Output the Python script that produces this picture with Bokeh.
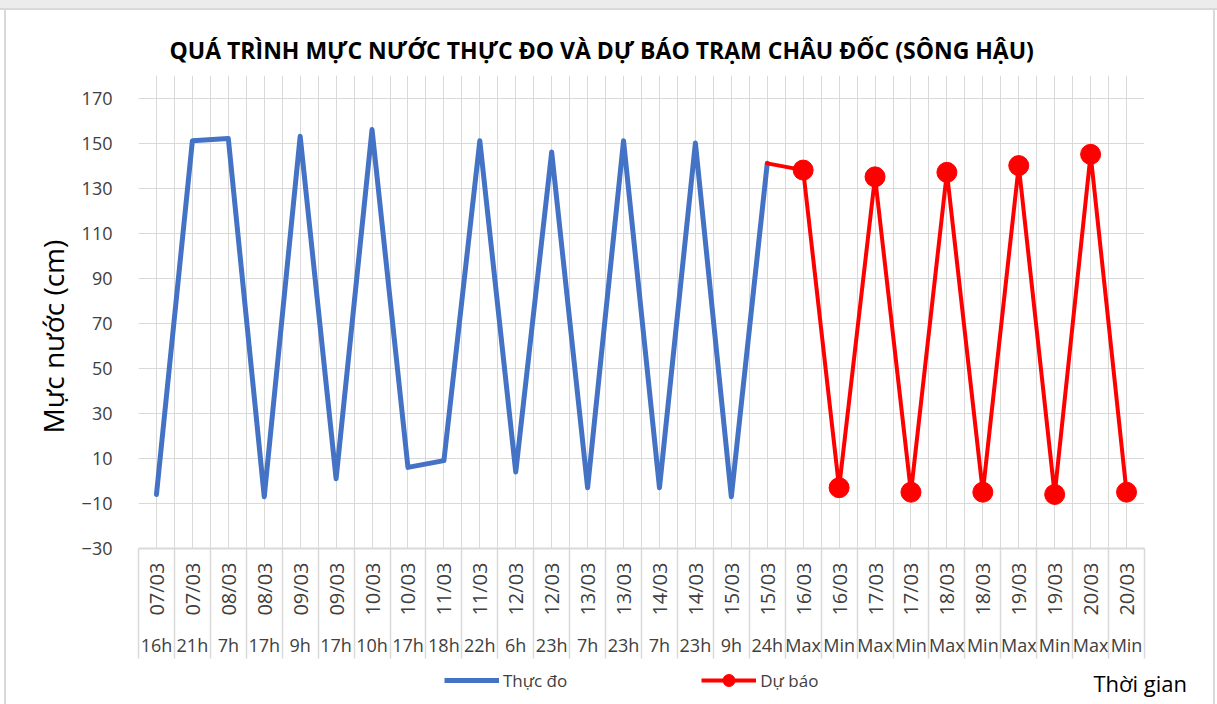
import math
from bokeh.plotting import figure
from bokeh.layouts import column
from bokeh.models import (Range1d, FixedTicker, LinearAxis, Label, Legend, LegendItem,
                          ColumnDataSource, Grid, Title)
from bokeh.embed import file_html
from bokeh.resources import INLINE

# ---------------- data ----------------
dates = ["07/03", "07/03", "08/03", "08/03", "09/03", "09/03", "10/03", "10/03",
         "11/03", "11/03", "12/03", "12/03", "13/03", "13/03", "14/03", "14/03",
         "15/03", "15/03", "16/03", "16/03", "17/03", "17/03", "18/03", "18/03",
         "19/03", "19/03", "20/03", "20/03"]
hours = ["16h", "21h", "7h", "17h", "9h", "17h", "10h", "17h", "18h", "22h", "6h", "23h",
         "7h", "23h", "7h", "23h", "9h", "24h", "Max", "Min", "Max", "Min", "Max", "Min",
         "Max", "Min", "Max", "Min"]
measured = [-6, 151, 152, -7, 153, 1, 156, 6, 9, 151, 4, 146, -3, 151, -3, 150, -7, 141]
forecast = [138, -3, 135, -5, 137, -5, 140, -6, 145, -5]
y_ticks = [-30, -10, 10, 30, 50, 70, 90, 110, 130, 150, 170]
y_min, y_max = -30, 180

FONT = "Open Sans"
GRID = "#d9d9d9"
BLUE = "#4472C4"
RED = "#FF0000"
SIDE_BORDER = ("inset 4px 0 0 white, inset -2px 0 0 white, "
               "inset 6px 0 0 #d9d9d9, inset -4px 0 0 #d9d9d9")

n = len(dates)
x_idx = list(range(n))
meas_x = x_idx[:len(measured)]
fc_line_x = x_idx[len(measured) - 1:]
fc_line_y = [measured[-1]] + forecast
fc_mark_x = x_idx[len(measured):]

# ---------------- main chart ----------------
p = figure(width=1217, height=660,
           x_range=Range1d(-0.5, n - 0.5), y_range=Range1d(y_min, y_max),
           output_backend="svg", toolbar_location=None, x_axis_location=None,
           min_border_left=138, min_border_right=73, min_border_top=75,
           min_border_bottom=112)
p.frame_align = False
p.styles = {"box-shadow": "inset 0 8px 0 #ececec, inset 0 10px 0 #d9d9d9, " + SIDE_BORDER}
p.outline_line_color = None
p.background_fill_color = "white"
p.border_fill_alpha = 0

# title
p.title.text = "QUÁ TRÌNH MỰC NƯỚC THỰC ĐO VÀ DỰ BÁO TRẠM CHÂU ĐỐC (SÔNG HẬU)"
p.title.text_font = FONT
p.title.text_font_style = "bold"
p.title.text_font_size = "23px"
p.title.text_color = "#000000"
p.title.align = "left"
p.title.offset = 31
p.title.standoff = 19

# grids
p.ygrid.ticker = FixedTicker(ticks=y_ticks)
p.ygrid.grid_line_color = GRID
p.ygrid.grid_line_width = 1
half_ticks = [i * 0.5 - 0.5 for i in range(2 * n + 1)]
p.add_layout(Grid(dimension=0, ticker=FixedTicker(ticks=half_ticks),
                  grid_line_color=GRID, grid_line_width=1))

# y axis
ya = p.yaxis[0]
ya.ticker = FixedTicker(ticks=y_ticks)
ya.axis_line_color = None
ya.major_tick_line_color = None
ya.minor_tick_line_color = None
ya.major_label_text_font = FONT
ya.major_label_text_font_size = "18px"
ya.major_label_text_color = "#404040"
ya.major_label_standoff = 20

# y axis title (placed in the left panel, slightly below the frame's centre)
ytitle = Title(text="Mực nước (cm)", align="left", offset=115, standoff=13,
               text_font=FONT, text_font_style="normal", text_font_size="28px",
               text_color="#000000")
p.add_layout(ytitle, "left")

# x axis: dates row (rotated) with separators drawn as long minor ticks
ax1 = LinearAxis(ticker=FixedTicker(ticks=x_idx, minor_ticks=[i - 0.5 for i in range(n + 1)]),
                 major_label_overrides={i: d for i, d in enumerate(dates)},
                 major_label_orientation=math.pi / 2,
                 major_tick_out=0, major_tick_in=0, major_tick_line_color=None,
                 minor_tick_out=110, minor_tick_in=0, minor_tick_line_color=GRID,
                 minor_tick_line_width=1.5,
                 axis_line_color=GRID, axis_line_width=2,
                 major_label_standoff=14 - 110,
                 major_label_text_font=FONT, major_label_text_font_size="20px",
                 major_label_text_color="#404040")
p.add_layout(ax1, "below")

# x axis: hours row
ax2 = LinearAxis(ticker=FixedTicker(ticks=x_idx),
                 major_label_overrides={i: h for i, h in enumerate(hours)},
                 major_tick_out=0, major_tick_in=0, major_tick_line_color=None,
                 minor_tick_line_color=None, axis_line_color=None,
                 major_label_standoff=14,
                 major_label_text_font=FONT, major_label_text_font_size="18px",
                 major_label_text_color="#404040")
p.add_layout(ax2, "below")

# series
src_m = ColumnDataSource(dict(x=meas_x, y=measured))
src_fl = ColumnDataSource(dict(x=fc_line_x, y=fc_line_y))
src_fm = ColumnDataSource(dict(x=fc_mark_x, y=forecast))

p.line("x", "y", source=src_m, line_color=BLUE, line_width=5,
       line_join="round", line_cap="round")
p.line("x", "y", source=src_fl, line_color=RED, line_width=4,
       line_join="round", line_cap="round")
p.scatter("x", "y", source=src_fm, marker="circle", size=20,
          fill_color=RED, line_color=RED)

# ---------------- legend row (full-width frame) ----------------
q = figure(width=1217, height=44, x_range=Range1d(0, 1), y_range=Range1d(0, 1),
           output_backend="svg", toolbar_location=None,
           x_axis_location=None, y_axis_location=None,
           min_border_left=0, min_border_right=0, min_border_top=0, min_border_bottom=0)
q.frame_align = False
q.styles = {"box-shadow": SIDE_BORDER}
q.outline_line_color = None
q.background_fill_alpha = 0
q.border_fill_alpha = 0
q.grid.visible = False

# legend-only renderers: their data sit outside the visible range
lr1 = q.line(x=[5, 6], y=[5, 6], line_color=BLUE, line_width=5)
lr2 = q.line(x=[5, 6], y=[5, 6], line_color=RED, line_width=4)
lr3 = q.scatter(x=[5], y=[5], marker="circle", size=20, fill_color=RED, line_color=RED)

legend = Legend(items=[LegendItem(label="Thực đo", renderers=[lr1]),
                       LegendItem(label="Dự báo", renderers=[lr2, lr3])],
                location=(444, 9), orientation="horizontal",
                glyph_width=55, glyph_height=30, label_standoff=4, spacing=134,
                padding=0, margin=0, border_line_color=None,
                background_fill_alpha=0,
                label_text_font=FONT, label_text_font_size="17px",
                label_text_color="#404040")
q.add_layout(legend, "center")

xlabel = Label(x=1093, y=22, x_units="screen", y_units="screen",
               text="Thời gian", text_align="left", text_baseline="middle",
               text_font=FONT, text_font_size="22px", text_color="#000000")
q.add_layout(xlabel)

layout = column(p, q, spacing=0)
open("out.html", "w").write(file_html(layout, INLINE))
